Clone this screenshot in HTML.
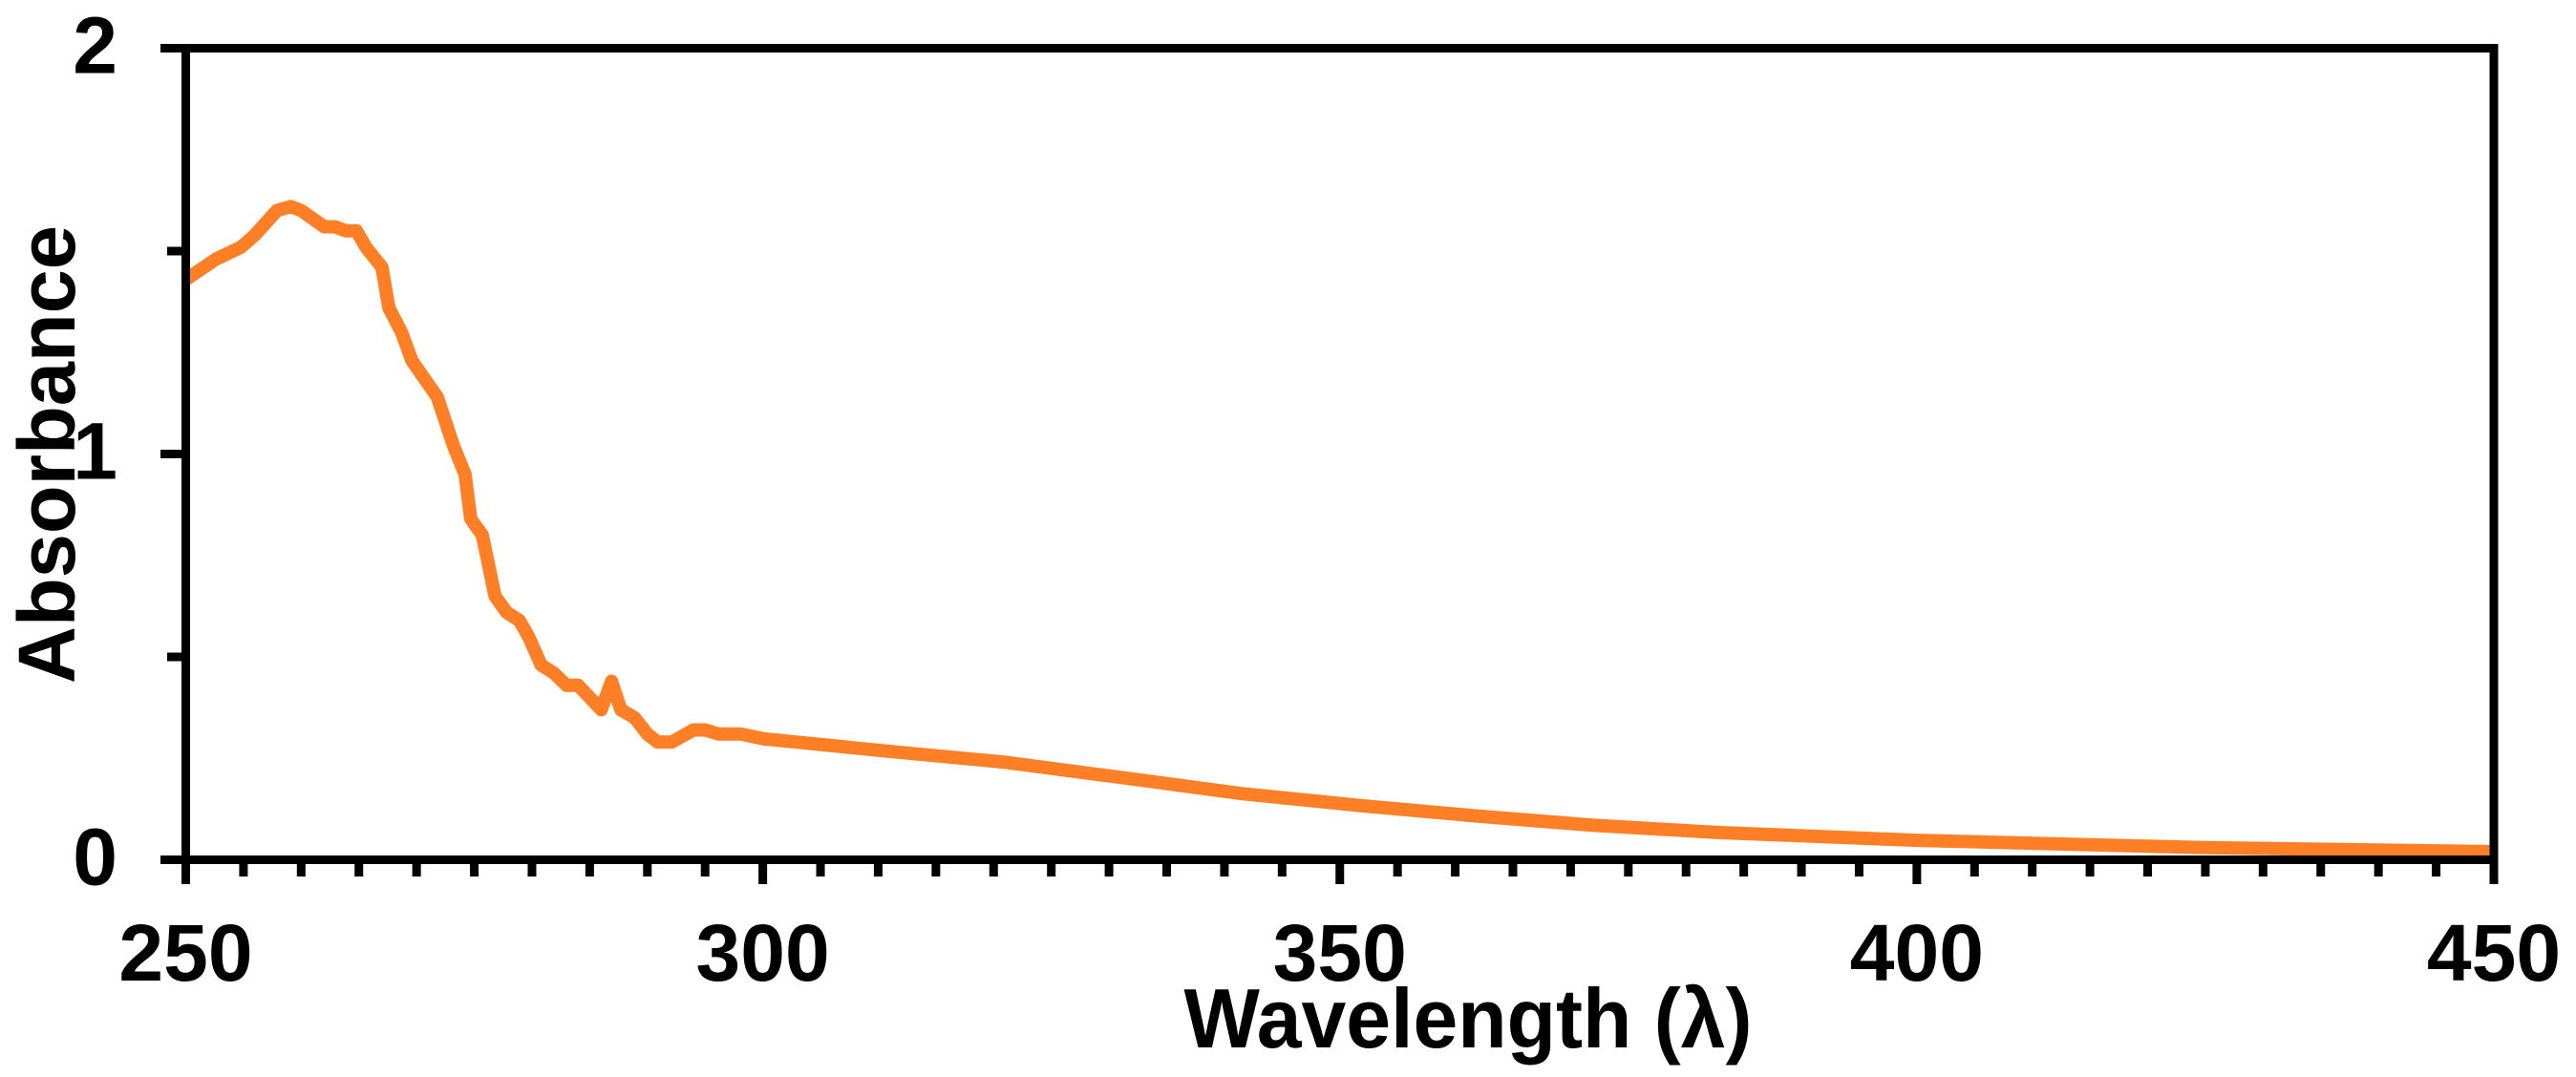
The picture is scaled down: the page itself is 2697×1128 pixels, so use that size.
<!DOCTYPE html>
<html>
<head>
<meta charset="utf-8">
<style>
html,body{margin:0;padding:0;background:#fff;}
svg{display:block;}
text{font-family:"Liberation Sans",Arial,sans-serif;font-weight:bold;fill:#000;}
</style>
</head>
<body>
<svg id="chart" width="2697" height="1128" viewBox="0 0 2697 1128" xmlns="http://www.w3.org/2000/svg">
  <rect x="0" y="0" width="2697" height="1128" fill="#fff"/>
  <g id="ticks"></g>
  <g id="labels"></g>
  <path id="series" fill="none" stroke="#FF7F27" stroke-width="14" stroke-linejoin="round" stroke-linecap="butt"/>
  <rect x="194.5" y="50.5" width="2416.5" height="850" fill="none" stroke="#000" stroke-width="9"/>
  <text transform="translate(78,476) rotate(-90)" text-anchor="middle" font-size="84" textLength="480" lengthAdjust="spacingAndGlyphs">Absorbance</text>
  <text x="1537" y="1097" text-anchor="middle" font-size="88" textLength="595" lengthAdjust="spacingAndGlyphs">Wavelength (λ)</text>
</svg>
<script>
const wavelengths = [250,252.6,254.8,256,257.9,259.1,260,262,262.9,263.9,264.8,265.6,267,267.6,268.7,269.6,271.8,273.2,274.2,274.7,275.7,276.8,277.8,278.9,279.7,280.8,281.9,283,284,286,286.9,287.7,288.9,290,290.9,292.1,294,295,296.2,298.1,300.1,303,310,320.8,331,341.5,352,362.2,372,382.9,400,425,450];
const absorbance = [1.43,1.48,1.51,1.54,1.60,1.61,1.60,1.56,1.56,1.55,1.55,1.51,1.46,1.36,1.30,1.23,1.14,1.02,0.95,0.84,0.80,0.65,0.61,0.59,0.55,0.48,0.46,0.43,0.43,0.37,0.44,0.37,0.35,0.31,0.29,0.29,0.32,0.32,0.31,0.31,0.298,0.29,0.27,0.241,0.203,0.163,0.133,0.107,0.085,0.067,0.048,0.03,0.02];
const xTickLabels = [250,300,350,400,450];
const yTickLabels = [0,1,2];

const X0 = 194.5, X1 = 2611, Y0 = 900.5, Y1 = 50.5;
const xMin = 250, xMax = 450, yMin = 0, yMax = 2;
function xs(v){ return X0 + (v - xMin) / (xMax - xMin) * (X1 - X0); }
function ys(v){ return Y0 - (v - yMin) / (yMax - yMin) * (Y0 - Y1); }

const NS = "http://www.w3.org/2000/svg";
const ticks = document.getElementById("ticks");
const labels = document.getElementById("labels");

for (let w = xMin; w <= xMax; w += 5) {
  const major = (w % 50 === 0);
  const t = document.createElementNS(NS, "line");
  
  
  t.setAttribute("x1", xs(w)); t.setAttribute("x2", xs(w));
  t.setAttribute("y1", Y0); t.setAttribute("y2", major ? 926 : 918);
  t.setAttribute("stroke", "#000"); t.setAttribute("stroke-width", "9");
  ticks.appendChild(t);
}
for (let v = yMin; v <= yMax + 1e-9; v += 0.5) {
  const major = Math.abs(v - Math.round(v)) < 1e-9;
  const t = document.createElementNS(NS, "line");
  
  
  t.setAttribute("x1", major ? 168 : 175); t.setAttribute("x2", X0);
  t.setAttribute("y1", ys(v)); t.setAttribute("y2", ys(v));
  t.setAttribute("stroke", "#000"); t.setAttribute("stroke-width", "9");
  ticks.appendChild(t);
}
xTickLabels.forEach(function(w){
  const tx = document.createElementNS(NS, "text");
  
  
  tx.setAttribute("x", xs(w)); tx.setAttribute("y", 1027);
  tx.setAttribute("text-anchor", "middle"); tx.setAttribute("font-size", "84");
  tx.textContent = w;
  labels.appendChild(tx);
});
yTickLabels.forEach(function(v){
  const tx = document.createElementNS(NS, "text");
  
  
  tx.setAttribute("x", 123); tx.setAttribute("y", ys(v) + 26);
  tx.setAttribute("text-anchor", "end"); tx.setAttribute("font-size", "84");
  tx.textContent = v;
  labels.appendChild(tx);
});
let d = "";
wavelengths.forEach(function(w, i){
  d += (i ? "L" : "M") + xs(w).toFixed(1) + "," + ys(absorbance[i]).toFixed(1);
});
document.getElementById("series").setAttribute("d", d);
</script>
</body>
</html>
